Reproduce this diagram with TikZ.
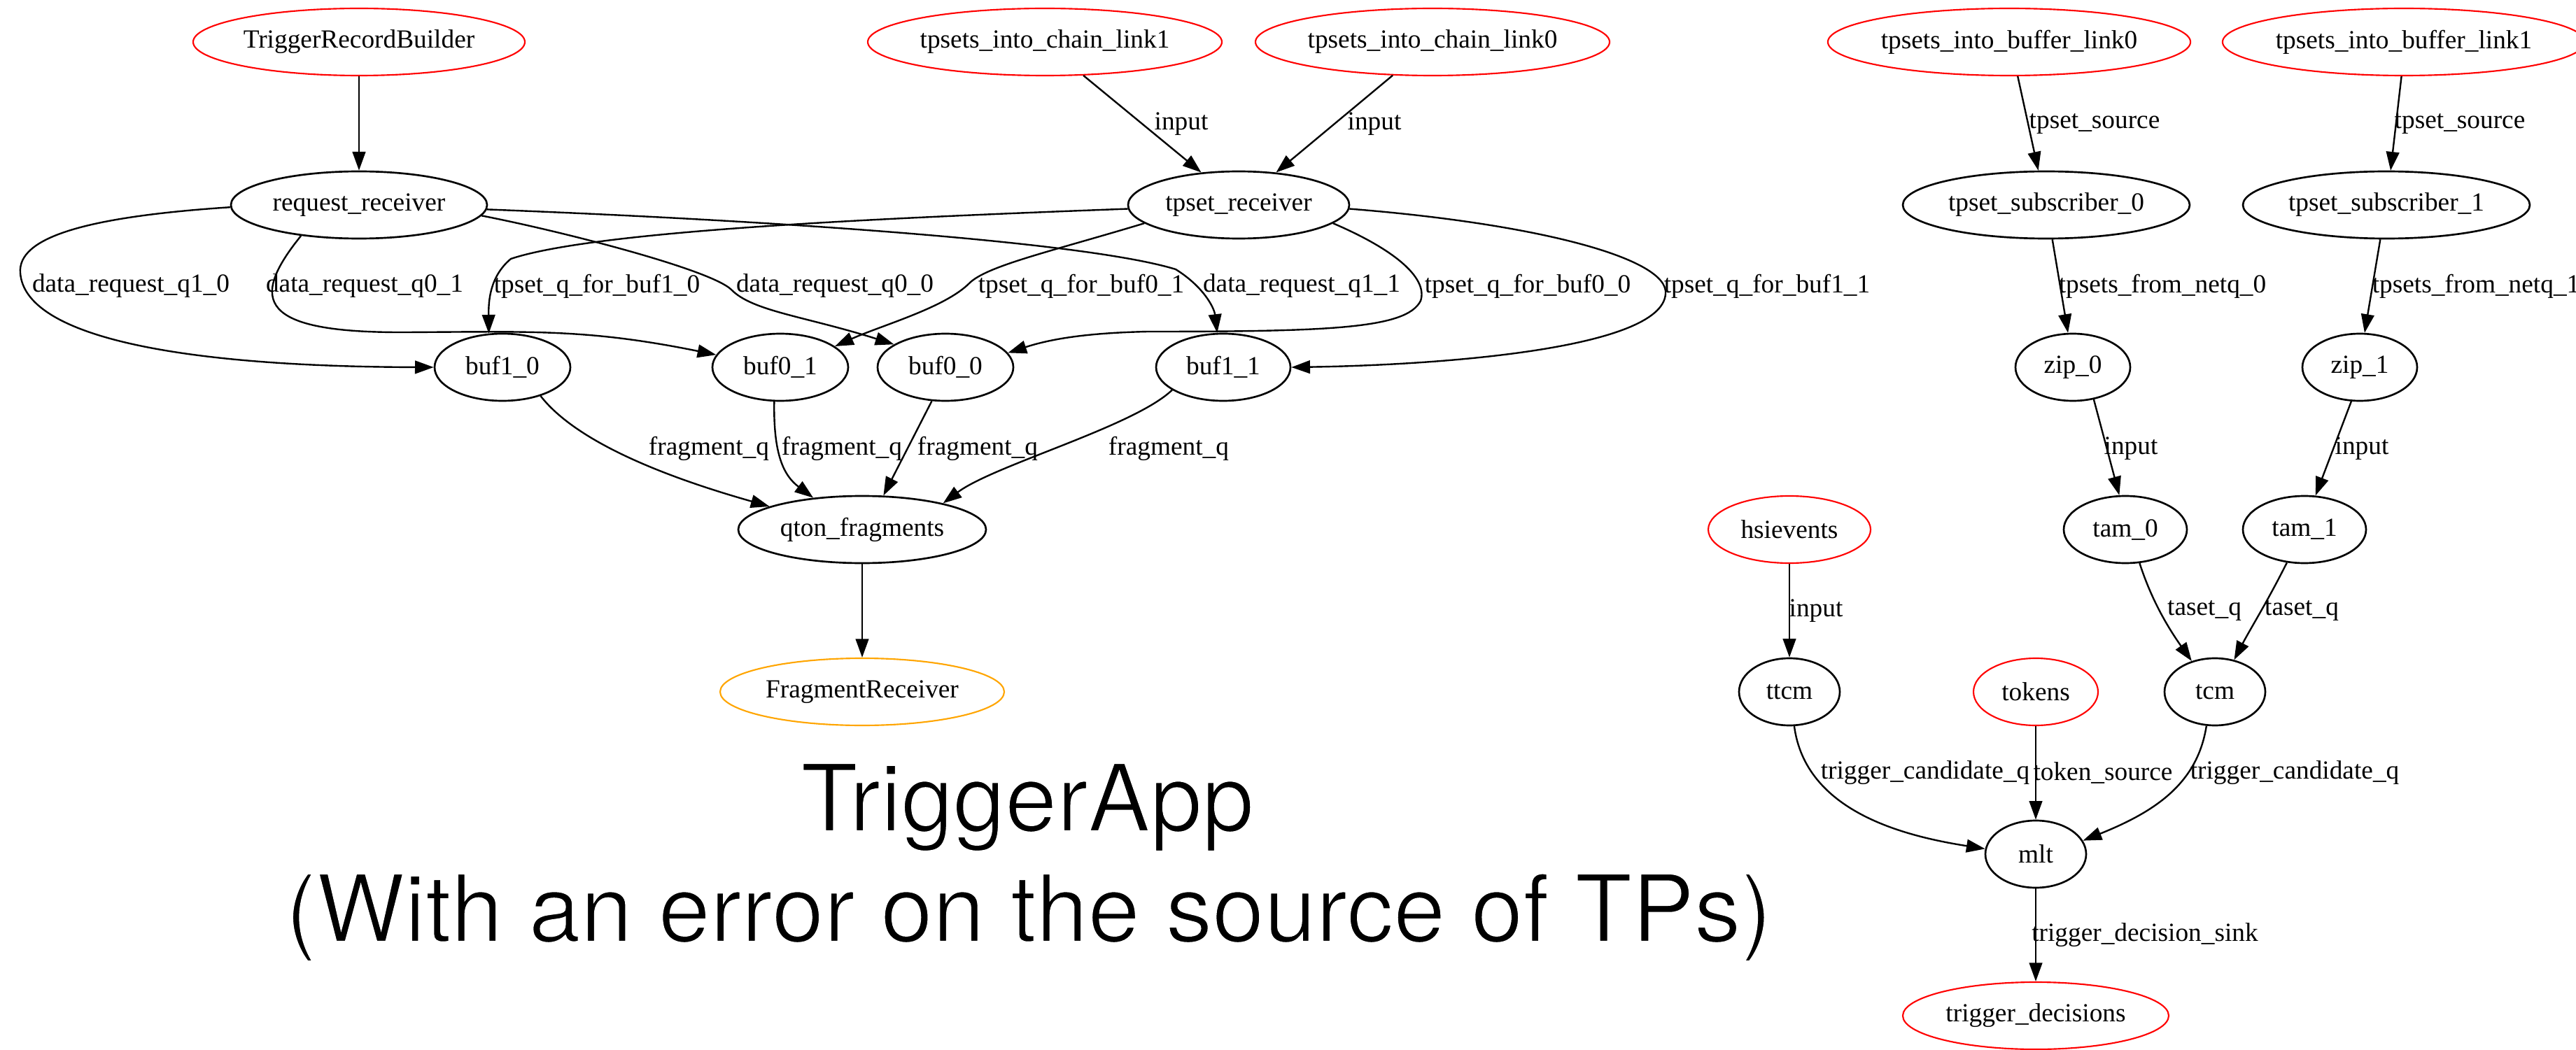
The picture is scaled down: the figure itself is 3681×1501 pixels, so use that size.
\documentclass[tikz,border=0pt]{standalone}
\usepackage{fontspec}
\setmainfont{Liberation Serif}
\newfontfamily\titlefont{TeX Gyre Heros}
\usetikzlibrary{shapes.geometric,arrows.meta}
\definecolor{gvorange}{RGB}{255,165,0}
\newcommand\thintext[1]{\special{pdf:literal direct 2 Tr 1 1 1 RG 0.9 w}#1\special{pdf:literal direct 0 Tr 0 0 0 RG}}
\begin{document}
\begin{tikzpicture}[x=0.375pt,y=-0.375pt,
  gv/.style={ellipse,draw,line width=1pt,inner sep=0pt,minimum height=36pt,font=\fontsize{14}{16}\selectfont},
  src/.style={gv,draw=red,line width=0.8pt},
  snk/.style={gv,draw=gvorange,line width=0.8pt},
  lbl/.style={inner sep=0pt,font=\fontsize{14}{16}\selectfont},
  conn/.style={line width=0.9pt,-{Triangle[length=10pt,width=7pt]}},
  w/.style={minimum width=#1*0.375pt},
  ttl/.style={anchor=base,inner sep=0pt,font=\titlefont\fontsize{50}{60}\selectfont}]
\useasboundingbox (0,0) rectangle (3681,1501);
% nodes
\node[src,w=474] (trb) at (513,60) {TriggerRecordBuilder};
\node[gv,w=366] (rr) at (513,293) {request\_receiver};
\node[src,w=506] (cl1) at (1493,60) {tpsets\_into\_chain\_link1};
\node[src,w=506] (cl0) at (2047,60) {tpsets\_into\_chain\_link0};
\node[gv,w=316] (tr) at (1770,293) {tpset\_receiver};
\node[src,w=516] (bl0) at (2871,60) {tpsets\_into\_buffer\_link0};
\node[src,w=516] (bl1) at (3435,60) {tpsets\_into\_buffer\_link1};
\node[gv,w=410] (sub0) at (2924,293) {tpset\_subscriber\_0};
\node[gv,w=410] (sub1) at (3410,293) {tpset\_subscriber\_1};
\node[gv,w=194] (b10) at (718,525) {buf1\_0};
\node[gv,w=194] (b01) at (1115,525) {buf0\_1};
\node[gv,w=194] (b00) at (1351,525) {buf0\_0};
\node[gv,w=192] (b11) at (1748,525) {buf1\_1};
\node[gv,w=164] (zip0) at (2962,525) {zip\_0};
\node[gv,w=164] (zip1) at (3372,525) {zip\_1};
\node[gv,w=354] (qt) at (1232,757) {qton\_fragments};
\node[src,w=232] (hsi) at (2557,757) {hsievents};
\node[gv,w=176] (tam0) at (3037,757) {tam\_0};
\node[gv,w=176] (tam1) at (3293,757) {tam\_1};
\node[snk,w=406] (fr) at (1232,989) {FragmentReceiver};
\node[gv,w=144] (ttcm) at (2557,989) {ttcm};
\node[src,w=178] (tok) at (2909,989) {tokens};
\node[gv,w=144] (tcm) at (3165,989) {tcm};
\node[gv,w=144] (mlt) at (2909,1221) {mlt};
\node[src,w=380] (td) at (2909,1452) {trigger\_decisions};
% edges
\draw[conn] (trb.south) -- (rr.north);
\draw[conn] (cl1.-41) -- (tr.139);
\draw[conn] (cl0.220) -- (tr.41);
\draw[conn] (rr.181) .. controls (120,310) and (25,340) .. (29,390) .. controls (35,480) and (250,524) .. (b10.west);
\draw[conn] (rr.208) .. controls (355,430) and (370,476) .. (580,475) .. controls (760,474) and (840,470) .. (b01.169);
\draw[conn] (rr.355) .. controls (800,330) and (1015,385) .. (1045,414) .. controls (1075,445) and (1150,452) .. (b00.156);
\draw[conn] (rr.358) .. controls (1100,315) and (1550,345) .. (1680,385) .. controls (1720,410) and (1735,440) .. (b11.100);
\draw[conn] (tr.182) .. controls (1250,312) and (850,330) .. (730,370) .. controls (700,395) and (698,430) .. (b10.112);
\draw[conn] (tr.191) .. controls (1500,360) and (1410,380) .. (1385,405) .. controls (1350,440) and (1260,465) .. (b01.21);
\draw[conn] (tr.349) .. controls (2000,360) and (2040,400) .. (2030,430) .. controls (2010,470) and (1900,474) .. (1640,474) .. controls (1550,476) and (1500,485) .. (b00.13);
\draw[conn] (tr.358) .. controls (2200,320) and (2385,370) .. (2380,420) .. controls (2375,500) and (2050,522) .. (b11.east);
\draw[conn] (b10.323) .. controls (830,640) and (980,690) .. (qt.166);
\draw[conn] (b01.260) .. controls (1105,650) and (1120,680) .. (qt.147);
\draw[conn] (b00.248) -- (qt.58);
\draw[conn] (b11.204) .. controls (1620,610) and (1420,665) .. (qt.18);
\draw[conn] (qt.south) -- (fr.north);
\draw[conn] (bl0.284) -- (sub0.103);
\draw[conn] (bl1.266) -- (sub1.83);
\draw[conn] (sub0.280) -- (zip0.98);
\draw[conn] (sub1.260) -- (zip1.82);
\draw[conn] (zip0.303) -- (tam0.100);
\draw[conn] (zip1.256) -- (tam1.72);
\draw[conn] (hsi.south) -- (ttcm.north);
\draw[conn] (tam0.293) .. controls (3075,860) and (3100,900) .. (tcm.127);
\draw[conn] (tam1.242) .. controls (3240,860) and (3215,900) .. (tcm.59);
\draw[conn] (ttcm.278) .. controls (2580,1160) and (2720,1195) .. (mlt.174);
\draw[conn] (tok.south) -- (mlt.north);
\draw[conn] (tcm.256) .. controls (3140,1120) and (3080,1160) .. (mlt.16);
\draw[conn] (mlt.south) -- (td.north);
% edge labels
\node[lbl] (l1) at (1688,177) {input};
\node[lbl] (l2) at (1964,177) {input};
\node[lbl] (l3) at (187,409) {data\_request\_q1\_0};
\node[lbl] (l4) at (521,409) {data\_request\_q0\_1};
\node[lbl] (l5) at (853,409) {tpset\_q\_for\_buf1\_0};
\node[lbl] (l6) at (1193,409) {data\_request\_q0\_0};
\node[lbl] (l7) at (1545,409) {tpset\_q\_for\_buf0\_1};
\node[lbl] (l8) at (1860,409) {data\_request\_q1\_1};
\node[lbl] (l9) at (2183,409) {tpset\_q\_for\_buf0\_0};
\node[lbl] (l10) at (2525,409) {tpset\_q\_for\_buf1\_1};
\node[lbl] (l11) at (1013,641) {fragment\_q};
\node[lbl] (l12) at (1203,641) {fragment\_q};
\node[lbl] (l13) at (1397,641) {fragment\_q};
\node[lbl] (l14) at (1670,641) {fragment\_q};
\node[lbl] (l15) at (2993,177) {tpset\_source};
\node[lbl] (l16) at (3515,177) {tpset\_source};
\node[lbl] (l17) at (3090,409) {tpsets\_from\_netq\_0};
\node[lbl] (l18) at (3538,409) {tpsets\_from\_netq\_1};
\node[lbl] (l19) at (3045,641) {input};
\node[lbl] (l20) at (3375,641) {input};
\node[lbl] (l21) at (2595,873) {input};
\node[lbl] (l22) at (3150,873) {taset\_q};
\node[lbl] (l23) at (3289,873) {taset\_q};
\node[lbl] (l24) at (2751,1105) {trigger\_candidate\_q};
\node[lbl] (l25) at (3005,1105) {token\_source};
\node[lbl] (l26) at (3279,1105) {trigger\_candidate\_q};
\node[lbl] (l27) at (3065,1337) {trigger\_decision\_sink};
% title
\node[ttl] (t1) at (1468,1188) {\thintext{TriggerApp}};
\node[ttl] (t2) at (1470,1346) {\thintext{(With an error on the source of TPs)}};
\end{tikzpicture}
\end{document}
